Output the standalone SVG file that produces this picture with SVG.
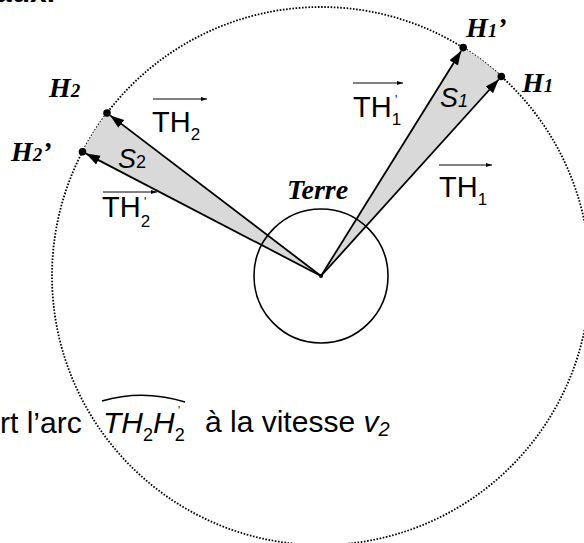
<svg xmlns="http://www.w3.org/2000/svg" width="584" height="543" viewBox="0 0 584 543">
<defs>
<marker id="ah" markerUnits="userSpaceOnUse" markerWidth="16" markerHeight="12" refX="14" refY="5" orient="auto"><path d="M0,0 L14,5 L0,10 z" fill="#000"/></marker>
<marker id="va" markerUnits="userSpaceOnUse" markerWidth="8" markerHeight="6" refX="6" refY="2" orient="auto"><path d="M0,0 L6,2 L0,4 z" fill="#000"/></marker>
<style>
.lbl{font-family:"Liberation Sans",Arial,sans-serif;fill:#000}
.hl{font-family:"Liberation Serif","Times New Roman",serif;font-weight:bold;font-style:italic;fill:#000}
.vec{stroke:#000;stroke-width:1;marker-end:url(#va)}
.ray{stroke:#000;stroke-width:1.8;fill:none;marker-end:url(#ah)}
.wedge{fill:#d9d9d9;stroke:none}
.dot{fill:#000}
</style>
</defs>
<rect width="584" height="543" fill="#fff"/>
<text class="lbl" x="-5" y="2" font-size="30" font-weight="bold">aux.</text>
<g id="orbit"><circle cx="321" cy="276" r="269" fill="none" stroke="#000" stroke-width="1.8" stroke-dasharray="1.6 1.6"/></g>
<g id="S2"><path class="wedge" d="M321,276 L107,113 A269,269 0 0 0 82.5,151.7 Z"/>
<text class="lbl" x="118" y="168" font-size="27" font-style="italic">S<tspan font-size="18" font-style="normal">2</tspan></text></g>
<g id="S1"><path class="wedge" d="M321,276 L463.2,47.6 A269,269 0 0 1 501.3,76.5 Z"/>
<text class="lbl" x="440" y="107" font-size="27" font-style="italic">S<tspan font-size="18">1</tspan></text></g>
<g id="terre"><circle cx="321" cy="276" r="67" fill="none" stroke="#000" stroke-width="1.6"/>
<text class="hl" x="287" y="199" font-size="28">Terre</text></g>
<g id="connectors">
<line class="ray" x1="321" y1="276" x2="110.2" y2="115.4"/>
<line class="ray" x1="321" y1="276" x2="86" y2="153.6"/>
<line class="ray" x1="321" y1="276" x2="461.1" y2="51"/>
<line class="ray" x1="321" y1="276" x2="498.7" y2="79.5"/>
</g>
<circle cx="321" cy="276" r="2" class="dot"/>
<g id="H2"><circle class="dot" cx="107" cy="113" r="3.8"/><text class="hl" x="49" y="97" font-size="28">H<tspan font-size="19">2</tspan></text></g>
<g id="H2p"><circle class="dot" cx="82.5" cy="151.7" r="3.8"/><text class="hl" x="11" y="161" font-size="28">H<tspan font-size="19">2</tspan>’</text></g>
<g id="H1p"><circle class="dot" cx="463.2" cy="47.6" r="3.8"/><text class="hl" x="466" y="37" font-size="28">H<tspan font-size="19">1</tspan>’</text></g>
<g id="H1"><circle class="dot" cx="501.3" cy="76.5" r="3.8"/><text class="hl" x="522" y="92" font-size="28">H<tspan font-size="19">1</tspan></text></g>
<g id="vTH2"><line class="vec" x1="153" y1="99" x2="207" y2="99"/><text class="lbl" x="152" y="132" font-size="29">TH<tspan font-size="17" dy="8">2</tspan></text></g>
<g id="vTH2p"><line class="vec" x1="103" y1="192" x2="157" y2="192"/><text class="lbl" x="102" y="217" font-size="29">TH<tspan font-size="17" dy="10">2</tspan></text><text class="lbl" x="144" y="206" font-size="12">'</text></g>
<g id="vTH1p"><line class="vec" x1="353" y1="83" x2="403" y2="83"/><text class="lbl" x="353" y="117" font-size="29">TH<tspan font-size="17" dy="8">1</tspan></text><text class="lbl" x="395" y="104" font-size="12">'</text></g>
<g id="vTH1"><line class="vec" x1="439" y1="165" x2="492" y2="165"/><text class="lbl" x="439" y="197" font-size="29">TH<tspan font-size="17" dy="8">1</tspan></text></g>
<g id="caption">
<text class="lbl" x="0" y="433" font-size="30">rt l’arc <tspan x="103" font-style="italic">TH<tspan font-size="18" dy="8" font-style="normal">2</tspan><tspan dy="-8">H</tspan><tspan font-size="18" dy="8" font-style="normal">2</tspan></tspan></text>
<text class="lbl" x="178" y="414" font-size="11">'</text>
<path d="M102,401 Q143,389 185,402" fill="none" stroke="#000" stroke-width="1.6"/>
<text class="lbl" x="205" y="432" font-size="30">à la vitesse <tspan font-style="italic">v<tspan font-size="20" dy="4">2</tspan></tspan></text>
</g>
</svg>
